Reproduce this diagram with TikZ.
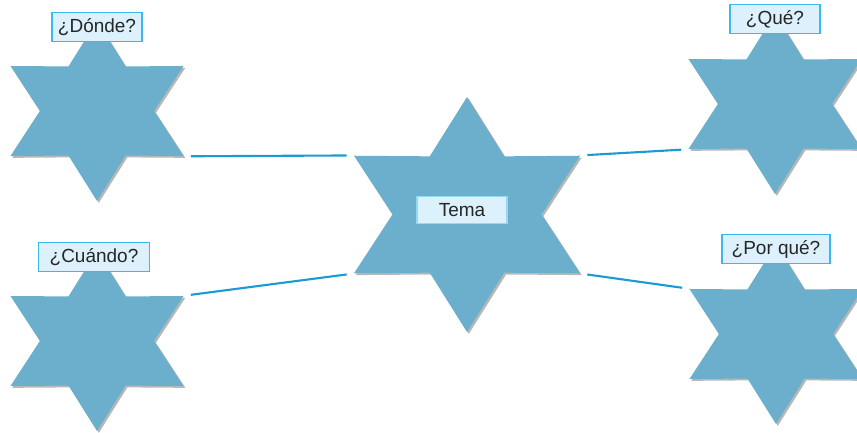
\documentclass[tikz,border=0pt]{standalone}
\usepackage{fontspec}
\setmainfont{Liberation Sans}
\usetikzlibrary{shapes.geometric,shadows}
\definecolor{starblue}{HTML}{6BAFCD}
\definecolor{linkblue}{HTML}{1B9AD3}
\definecolor{boxfill}{HTML}{DCF1FB}
\definecolor{boxline}{HTML}{3CB9EA}
\begin{document}
\begin{tikzpicture}[x=0.025cm, y=-0.025cm,
	hexstar/.style={star, star points=6, star point ratio=1.75, fill=starblue, inner sep=0pt,
		minimum size=4.5cm, xscale=1.11,
		drop shadow={shadow xshift=1.3pt, shadow yshift=-1.3pt, opacity=0.4, fill=black!70}},
	bigstar/.style={hexstar, minimum size=5.875cm},
	qbox/.style={draw=boxline, fill=boxfill, line width=0.8pt, inner sep=0pt, minimum width=2.25cm,
		minimum height=0.71cm, font=\fontsize{13.5}{16}\selectfont, text=black!85},
	link/.style={draw=linkblue, line width=1.5pt, shorten <=0.17cm, shorten >=0.17cm}]
			\useasboundingbox (0,0) rectangle (857,433);
			% stars
			\node[hexstar] (dstar) at (97,111) {};
			\node[hexstar] (cstar) at (97,341) {};
			\node[bigstar] (tstar) at (467,214.5) {};
			\node[hexstar] (qstar) at (775,104) {};
			\node[hexstar] (pstar) at (776,334) {};
			% links
			\draw[link] (dstar.-30) -- (tstar.150);
			\draw[link] (cstar.30) -- (tstar.210);
			\draw[link] (tstar.30) -- (qstar.210);
			\draw[link] (tstar.-30) -- (pstar.150);
			% labels
			\node[qbox] (dlabel) at (97,27) {¿Dónde?};
			\node[qbox] (qlabel) at (775,19) {¿Qué?};
			\node[qbox, minimum width=2.78cm] (clabel) at (94,257) {¿Cuándo?};
			\node[qbox, minimum width=2.7cm] (plabel) at (776,249) {¿Por qué?};
			\node[qbox, draw=boxline!55, minimum height=0.68cm] (tlabel) at (462,210) {Tema};
		\end{tikzpicture}
\end{document}
